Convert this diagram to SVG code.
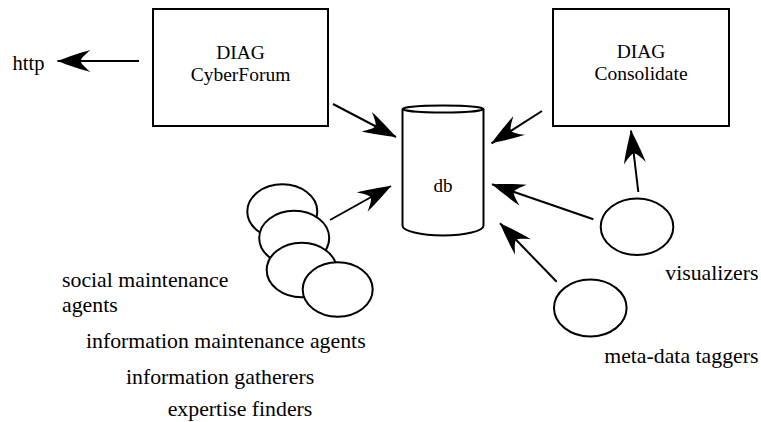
<svg xmlns="http://www.w3.org/2000/svg" width="761" height="422" viewBox="0 0 761 422">
<style>
.box{fill:#fff;stroke:#000;stroke-width:2}
.shape{fill:#fff;stroke:#000;stroke-width:2}
text{font-family:'Liberation Serif','Times New Roman',serif;fill:#000}
.lbl{font-size:19.5px;text-anchor:middle}
.cap{font-size:21.8px}
.conn{stroke:#000;stroke-width:2;fill:none;marker-end:url(#head)}
</style>
<defs>
<marker id="head" markerUnits="userSpaceOnUse" orient="auto" refX="0" refY="0" viewBox="-35 -13 37 26" markerWidth="37" markerHeight="26" overflow="visible">
<path d="M0,0 C-10,-4 -25,-9 -33,-11 C-27,-6 -24,-3 -23,0 C-24,3 -27,6 -33,11 C-25,9 -10,4 0,0 Z" fill="#000"/>
</marker>
</defs>
<g id="cyberforum">
<rect class="box" x="153" y="9" width="175" height="117"/>
<text class="lbl" x="240.5" y="59">DIAG</text>
<text class="lbl" x="240.5" y="81">CyberForum</text>
</g>
<g id="consolidate">
<rect class="box" x="553" y="9" width="176" height="117"/>
<text class="lbl" x="641" y="58">DIAG</text>
<text class="lbl" x="641" y="80">Consolidate</text>
</g>
<g id="http">
<text class="cap" x="12.5" y="70" style="font-size:20.5px">http</text>
</g>
<g id="db">
<path class="shape" d="M402.5,109 L402.5,225.5 A40.5,10 0 0 0 483.5,225.5 L483.5,109"/>
<ellipse class="shape" cx="443" cy="109" rx="40.5" ry="3.5"/>
<text class="lbl" x="443" y="192" style="font-size:19px">db</text>
</g>
<g id="agents">
<ellipse class="shape" cx="282.3" cy="211.5" rx="35" ry="27.2"/>
<ellipse class="shape" cx="294.2" cy="238" rx="35" ry="27.2"/>
<ellipse class="shape" cx="301.7" cy="270" rx="35" ry="27.2"/>
<ellipse class="shape" cx="337.7" cy="289.5" rx="35" ry="27.2"/>
<text class="cap" x="62" y="286.5">social maintenance</text>
<text class="cap" x="62" y="311.5">agents</text>
<text class="cap" x="86" y="347.5">information maintenance agents</text>
<text class="cap" x="126" y="384">information gatherers</text>
<text class="cap" x="167.7" y="416">expertise finders</text>
</g>
<g id="visualizers">
<ellipse class="shape" cx="637" cy="226.7" rx="36.3" ry="28.3"/>
<text class="cap" x="758.5" y="280" text-anchor="end">visualizers</text>
</g>
<g id="taggers">
<ellipse class="shape" cx="590.3" cy="308" rx="36.3" ry="28.5"/>
<text class="cap" x="758.5" y="363.3" text-anchor="end">meta-data taggers</text>
</g>
<g id="connectors">
<line class="conn" x1="139" y1="61" x2="57.5" y2="61"/>
<line class="conn" x1="333" y1="104" x2="396" y2="137"/>
<line class="conn" x1="542" y1="111" x2="491.5" y2="143.3"/>
<line class="conn" x1="638.3" y1="192" x2="631" y2="130.5"/>
<line class="conn" x1="593.3" y1="219.3" x2="492" y2="184.3"/>
<line class="conn" x1="556.7" y1="281.7" x2="500" y2="223.3"/>
<line class="conn" x1="330" y1="220" x2="391" y2="186"/>
</g>
</svg>
